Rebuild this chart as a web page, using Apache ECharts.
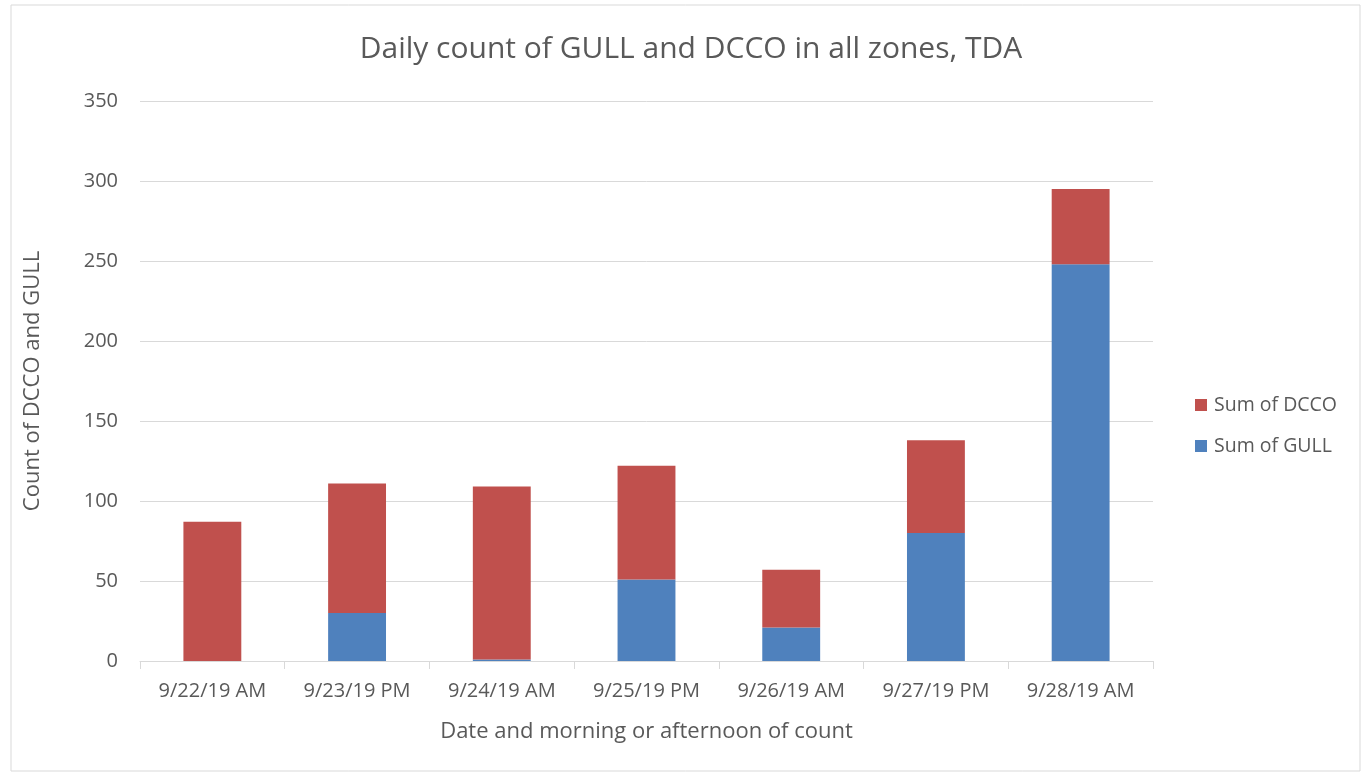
<!DOCTYPE html>
<html><head><meta charset="utf-8">
<script src="https://cdn.jsdelivr.net/npm/echarts@6/dist/echarts.min.js"></script>
<style>html,body{margin:0;padding:0;background:#fff}#c{width:1363px;height:774px}</style>
</head><body><div id="c"></div>
<script>
const categories = ['9/22/19 AM','9/23/19 PM','9/24/19 AM','9/25/19 PM','9/26/19 AM','9/27/19 PM','9/28/19 AM'];
const gull = [0, 30, 1, 51, 21, 80, 248];
const dcco = [87, 81, 108, 71, 36, 58, 47];
const yTicks = [0, 50, 100, 150, 200, 250, 300, 350];

const font = 'Open Sans';
const chart = echarts.init(document.getElementById('c'), null, {renderer:'canvas'});
chart.setOption({
  backgroundColor: '#fff',
  animation: false,
  title: {
    text: 'Daily count of GULL and DCCO in all zones, TDA',
    left: 686, top: 29, textAlign: 'center',
    textStyle: {fontFamily: font, fontSize: 30, fontWeight: 'normal', color: '#595959'}
  },
  graphic: [{
    type: 'rect', shape: {x: 11, y: 5, width: 1349, height: 766},
    style: {fill: 'none', stroke: '#d9d9d9', lineWidth: 1}, silent: true
  }],
  legend: {
    orient: 'vertical', left: 1190, top: 390, itemGap: 21,
    itemWidth: 12, itemHeight: 12, icon: 'rect',
    data: ['Sum of DCCO', 'Sum of GULL'],
    textStyle: {fontFamily: font, fontSize: 19.5, color: '#595959', padding: [0,0,0,2]}
  },
  grid: {left: 140, right: 210, top: 101, bottom: 113},
  xAxis: {
    type: 'category', data: categories,
    name: 'Date and morning or afternoon of count', nameLocation: 'middle', nameGap: 60,
    nameTextStyle: {fontFamily: font, fontSize: 22, color: '#595959'},
    axisLine: {lineStyle: {color: '#d9d9d9', width: 1}},
    axisTick: {show: true, length: 8, lineStyle: {color: '#d9d9d9'}},
    axisLabel: {fontFamily: font, fontSize: 20, color: '#595959', margin: 20}
  },
  yAxis: {
    type: 'value', min: yTicks[0], max: yTicks[yTicks.length-1], interval: 50,
    name: 'Count of DCCO and GULL', nameLocation: 'middle', nameGap: 96,
    nameTextStyle: {fontFamily: font, fontSize: 22, color: '#595959'},
    axisLine: {show: false}, axisTick: {show: false},
    axisLabel: {fontFamily: font, fontSize: 20, color: '#595959', margin: 22},
    splitLine: {lineStyle: {color: '#d9d9d9', width: 1}}
  },
  series: [
    {name: 'Sum of GULL', type: 'bar', stack: 't', data: gull, barWidth: '40%',
     itemStyle: {color: '#4f81bd'}},
    {name: 'Sum of DCCO', type: 'bar', stack: 't', data: dcco, barWidth: '40%',
     itemStyle: {color: '#c0504d'}}
  ]
});
</script></body></html>
